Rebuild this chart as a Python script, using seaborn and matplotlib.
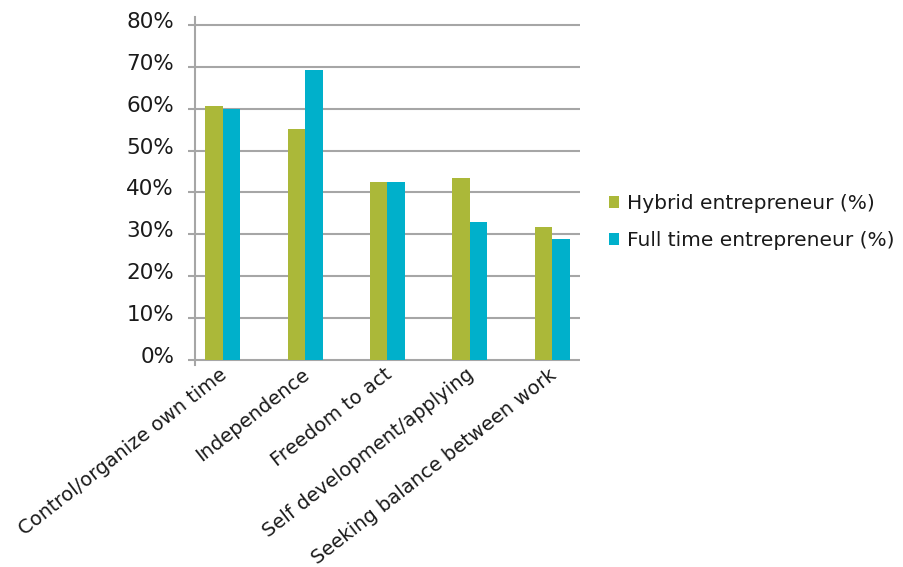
import matplotlib
matplotlib.use("Agg")
import matplotlib.pyplot as plt
import matplotlib.transforms as mtransforms
from matplotlib.patches import Patch
from matplotlib.ticker import FuncFormatter
import seaborn as sns
import pandas as pd

categories = [
    "Control/organize own time",
    "Independence",
    "Freedom to act",
    "Self development/applying",
    "Seeking balance between work",
]
series_names = ["Hybrid entrepreneur (%)", "Full time entrepreneur (%)"]
hybrid = [60.6, 55.1, 42.5, 43.4, 31.7]
full_time = [59.9, 69.2, 42.5, 32.9, 28.9]
y_ticks = [0, 10, 20, 30, 40, 50, 60, 70, 80]

colors = ["#abb839", "#00b0cb"]
text_color = "#1a1a1a"
grid_color = "#a6a6a6"

df = pd.DataFrame({
    "category": categories * 2,
    "series": [series_names[0]] * len(categories) + [series_names[1]] * len(categories),
    "value": hybrid + full_time,
})

sns.set_theme(style="white")
plt.rcParams["font.family"] = ["DejaVu Sans"]

DPI = 100
fig = plt.figure(figsize=(9.04, 5.67), dpi=DPI)
ax = fig.add_axes([195 / 904, 1 - 365 / 567, (580 - 195) / 904, (365 - 17) / 567])

sns.barplot(
    data=df, x="category", y="value", hue="series", order=categories,
    hue_order=series_names, palette=colors, width=0.425, gap=0,
    saturation=1, legend=False, ax=ax, errorbar=None, zorder=3,
)
for p in ax.patches:
    p.set_edgecolor("none")

ax.set_xlim(-0.34, len(categories) - 1 + 0.34)
ax.set_ylim(-1.2, 81.9)
ax.set_yticks(y_ticks)
ax.yaxis.set_major_formatter(FuncFormatter(lambda v, _: f"{v:.0f}%"))
for t in y_ticks:
    ax.axhline(t, color=grid_color, lw=1.5, zorder=1)

for side in ["top", "right", "bottom"]:
    ax.spines[side].set_visible(False)
ax.spines["left"].set_color(grid_color)
ax.spines["left"].set_linewidth(1.5)
ax.spines["left"].set_zorder(4)

ax.tick_params(axis="y", which="major", length=5, width=1.5, color=grid_color,
               labelsize=15.5, labelcolor=text_color, pad=10, left=True)
ax.tick_params(axis="x", length=0, labelsize=14, labelcolor=text_color, pad=0)
ax.set_xticks(range(len(categories)))
ax.set_xticklabels(categories, rotation=38, ha="right", rotation_mode="anchor")
ax.set_xlabel("")
ax.set_ylabel("")

# nudge tick labels: y labels sit slightly above their gridlines,
# category labels hang a little left of the bar pairs
y_shift = mtransforms.ScaledTranslation(0, 5 / DPI, fig.dpi_scale_trans)
for lab in ax.get_yticklabels():
    lab.set_transform(lab.get_transform() + y_shift)
x_shift = mtransforms.ScaledTranslation(-4 / DPI, 0, fig.dpi_scale_trans)
for lab in ax.get_xticklabels():
    lab.set_transform(lab.get_transform() + x_shift)

handles = [Patch(facecolor=c, edgecolor="none", label=n) for c, n in zip(colors, series_names)]
fig.legend(
    handles=handles, loc="center left", bbox_to_anchor=(609 / 904, 1 - 222 / 567),
    frameon=False, fontsize=14.5, handlelength=0.5, handleheight=0.5,
    handletextpad=0.4, labelspacing=0.9, labelcolor=text_color,
    borderpad=0, borderaxespad=0,
)

fig.savefig("out.png", dpi=DPI)
